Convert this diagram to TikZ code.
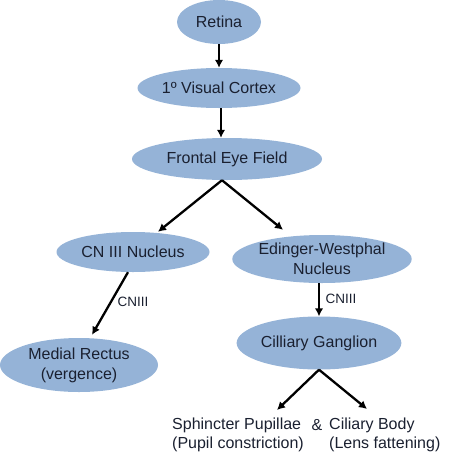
\documentclass[tikz,border=0pt]{standalone}
\usepackage{fontspec}
\setmainfont{Liberation Sans}
\usepackage{xcolor}
\usetikzlibrary{arrows, arrows.meta, shapes.geometric}
\definecolor{bubble}{HTML}{95B3D7}
\definecolor{ink}{HTML}{1A2030}

\begin{document}
\begin{tikzpicture}[x=1pt,y=-1pt,
  bubble/.style={ellipse,fill=bubble,inner sep=0pt,text=ink,align=center,font=\fontsize{16}{20}\selectfont},
  link/.style={-{Latex[length=8pt,width=8.5pt]},line width=2.3pt},
  nerve/.style={text=ink,font=\fontsize{13.5}{16}\selectfont},
  target/.style={align=left,anchor=north west,inner sep=0pt,text=ink,font=\fontsize{16}{19}\selectfont}]
\useasboundingbox (0,0) rectangle (474,464); %page size

\node[bubble,minimum width=84pt,minimum height=44pt] (ret) at (219,22) {Retina};
\node[bubble,minimum width=163pt,minimum height=40pt] (vc) at (219,88) {1º Visual Cortex};
\node[bubble,minimum width=190pt,minimum height=42pt] (fef) at (227,159) {Frontal Eye Field};

\node[bubble,minimum width=153pt,minimum height=40pt] (cn) at (133,252) {CN III Nucleus};
\node[bubble,minimum width=173pt,minimum height=48pt] (ew) at (322,259) {Edinger-Westphal\\Nucleus};

\node[bubble,minimum width=158pt,minimum height=54pt] (mr) at (79,365) {Medial Rectus\\(vergence)};
\node[bubble,minimum width=143pt,minimum height=53pt] (cg) at (319,343) {Cilliary Ganglion};

%bottom targets
\node[target] (sph) at (172,418) {Sphincter Pupillae\\(Pupil constriction)};
\node[text=ink,font=\fontsize{16}{19}\selectfont] (amp) at (317,425) {\&};
\node[target] (cil) at (329,418) {Ciliary Body\\(Lens fattening)};
\coordinate (sphtip) at (277,410);
\coordinate (ciltip) at (367,409);

%connectors
\draw[link] (ret) -- (vc);
\draw[link] ([xshift=2pt]vc.south) -- ([xshift=-6pt]fef.north);
\draw[link] ([xshift=-5pt]fef.south) -- ([xshift=25pt]cn.north);
\draw[link] ([xshift=-5pt]fef.south) -- ([xshift=-39pt,yshift=5pt]ew.north);
\draw[link] ([xshift=-5pt]cn.south) -- ([xshift=13pt,yshift=3pt]mr.north);
\draw[link] ([xshift=-3pt]ew.south) -- (cg.north);
\draw[link] (cg.south) -- (sphtip);
\draw[link] (cg.south) -- (ciltip);

\node[nerve] (cnl) at (133,302) {CNIII};
\node[nerve] (ewl) at (341,299) {CNIII};

\end{tikzpicture}
\end{document}
